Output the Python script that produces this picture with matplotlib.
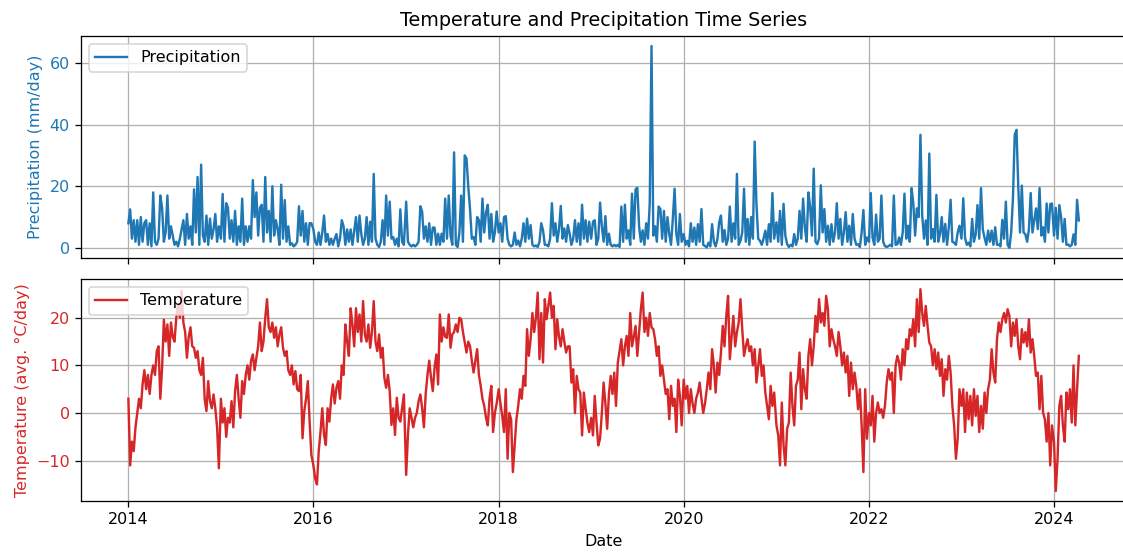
import numpy as np
import pandas as pd
import matplotlib
matplotlib.use('Agg')
import matplotlib.pyplot as plt

# valores semanais (mm/dia)
precip_2014 = [8, 12.5, 3, 9, 2, 9, 1, 10, 2, 8, 9, 1, 8, 0.5, 18, 2, 1, 3, 17, 13, 2, 5, 17, 3, 7, 4,
               1, 2, 0.5, 3, 6, 9, 1, 11, 3, 7, 1, 19, 5, 23, 1, 27, 4, 2, 10.5, 1, 9.5, 3, 6, 11, 2, 7]
precip_2015 = [3, 17.5, 2, 14.5, 13, 3, 9, 2, 12, 1, 7, 2, 16, 1, 7, 2, 7, 3, 22, 10, 18, 4, 13, 14, 2, 23,
               5, 12, 2, 20, 4, 9, 6, 1, 20.5, 3, 15.5, 2, 7, 1, 1.5, 0.5, 1, 2, 13.5, 4, 12, 2, 8, 1, 8, 8]
precip_2016 = [6, 2, 1, 5, 1, 5, 10.5, 2, 4.5, 1, 3, 1, 3, 4.5, 0.5, 3, 9, 7, 1, 6, 2, 6, 1, 5.5, 10, 2,
               10.5, 4.5, 1, 3, 10, 1, 8.5, 2, 24, 3, 1, 0.3, 2, 9, 1, 17, 4, 15, 3, 3.5, 1, 3, 0.5, 12.5, 2, 1]
precip_2017 = [15, 2, 1, 0.5, 1, 0.5, 1, 2, 13.5, 11.8, 3, 7, 2, 8, 1, 6.6, 6.6, 1, 4.6, 1, 4.6, 2, 16, 3, 17, 4,
               1, 31, 1, 0.3, 5, 17, 2, 30, 29, 20, 12.5, 3, 3.5, 1, 10, 9, 2, 16, 5, 11.4, 14, 3, 11, 2, 5, 11.8]
precip_2018 = [5, 8, 2, 10, 10.3, 3, 1, 0.5, 1, 5, 1, 2.4, 0.5, 3, 8, 2, 9.5, 3, 7.4, 1, 0.5, 0.8, 0.3, 2, 8, 5.7,
               1, 1, 0.5, 3, 14.5, 4, 8, 2, 6, 13.6, 3, 6.3, 2, 7.4, 4.6, 1, 3, 9, 2, 8, 1, 14, 3, 9, 2, 8.5]
precip_2019 = [3, 8.5, 9, 1, 3, 14.7, 7, 2, 10.3, 1, 4.6, 1, 0.5, 1, 0.5, 1, 0.3, 13.4, 2, 14, 3, 5.7, 1, 17.6, 3, 19,
               19.5, 7, 2, 5.7, 1, 8, 3, 14.5, 65.5, 4, 7, 2, 13.4, 12.6, 3, 12, 2, 10, 4.5, 1, 9.4, 19.2, 4.5, 1, 11, 2]
precip_2020 = [4.5, 1, 2.3, 0.5, 8, 2, 6.6, 1, 7.7, 2, 12.6, 1, 0.6, 0.2, 1.7, 0.5, 7.7, 2, 0.5, 2.8, 8.3, 10.5, 2, 5.8,
               1, 3, 13.4, 2, 8, 3, 24, 1, 2.3, 5, 19.2, 2, 9.4, 1, 10, 3, 34.5, 14.3, 3, 2.3, 1, 3, 5.6, 1, 7.7, 2, 17.8, 3]
precip_2021 = [8.3, 2, 12, 1, 14.3, 4, 1.2, 0.3, 1, 0.5, 4.5, 1, 3, 12, 3, 16, 6.6, 2, 18, 13.2, 4, 25.7, 2, 1.2, 3,
               20.3, 5, 12.6, 2, 7.2, 1, 7.7, 2, 5, 14.5, 3, 9.4, 1, 5, 11.6, 2, 7.2, 1, 11, 3, 1, 1.2, 0.3, 5, 12.3, 1, 3.4]
precip_2022 = [2, 17.8, 3.4, 1, 10.8, 2, 3, 17, 2, 0.6, 0.3, 0.6, 1, 0.5, 17, 1, 1.2, 3.4, 1, 5, 17.6, 3, 7.2, 2, 19.4,
               14.4, 4, 12.8, 10, 36.7, 10.6, 3, 8.9, 1, 30.6, 3, 6.1, 2, 17.2, 2, 4.4, 10, 2, 7.8, 1, 6.7, 15.6, 2, 1.7, 1, 5, 7.2]
precip_2023 = [3, 16.1, 3.3, 1, 1.7, 0.5, 9.4, 2, 4.4, 13.9, 3, 19.4, 6, 3.3, 1, 5.6, 2, 5.6, 1, 6.7, 1, 1.1, 0.5, 9.1,
               3, 15, 1, 0, 5, 16.1, 36.7, 38.3, 20, 5, 20.2, 5, 4.4, 2, 6, 17.8, 5, 8.9, 12.8, 6.1, 19.4, 4, 6.7, 2, 14.4, 5,
               14.2, 14.4]
precip_2024 = [4, 13, 3, 13.9, 10, 2, 9.4, 1, 1.1, 0.5, 1, 4.4, 1, 15.6, 8.9]

# temperatura media (graus C)
temp_2014 = [3, -11, -6, -8, -3, 0, 3, 1, 6, 9, 5, 8, 4, 8, 10, 8, 13, 14, 3, 9.5, 19.6, 15, 18.6, 12, 19, 16, 15, 20,
             23, 20, 25.6, 19, 17, 11.6, 16, 18, 14, 13.7, 11.6, 13, 9, 8, 11.6, 3, 0.4, 6.7, 2.5, 1, 3.9, 1, -3, -11.6]
temp_2015 = [3, -2, 1, -5, -1, -2, 2.5, -3, 4.6, 8, 3, -1, 6.7, 4, 8, 10, 7, 11, 12.3, 9, 11.6, 14, 19, 13, 15, 20,
             23.9, 18, 17, 19, 15.8, 18, 14, 16.5, 18, 13.7, 12, 13, 9, 8, 10, 6, 8.8, 5, 4.6, 8, -5.3, 0.4, 3, 6.7, -1.8, -8.8]
temp_2016 = [-11, -13.7, -15, -8, -4, 1, -4.6, -6.7, 1, -1.8, 3, 6, 2, 5.3, 6.7, 3, 10, 8, 18.6, 15, 12, 22, 18.6, 14,
             22, 17, 20.7, 15, 23.5, 16.5, 15, 18.6, 13.7, 17, 23.5, 15, 13, 16.5, 11.6, 13.7, 7.4, 5.3, 8, 4.6, -2.5, 1,
             -4.6, 3.2, -1, -1.8, 1, 3.9]
temp_2017 = [-13, -4.6, 1, -1, -3, -1, 0, 2.5, 3.9, 1, -3, 4, 8, 11, 7.4, 4.6, 9.5, 12.3, 6, 20.7, 15, 18, 16, 15.8,
             20.7, 13.7, 16.5, 17, 18.6, 17, 20, 19.7, 17, 14.8, 12.7, 15, 14, 11, 8.5, 11, 13.4, 8, 5.7, 3, 1.5, -1, -2.6,
             3, 5.7, -4, 0, 2]
temp_2018 = [5, 2, -0.6, -4, 5, -9.6, 0, -1.3, -12.4, -6.8, -1.3, 1.5, 5, 3, 7.8, 5.7, 17.6, 12, 15.5, 21, 17, 20, 25.3,
             11.3, 21, 10.6, 23.9, 19.7, 22.5, 25.3, 20, 22.5, 13.4, 19.7, 16, 14, 17.6, 15, 12.7, 14, 14, 6.4, 9.2, 0,
             7.8, 5, 4.3, -4.7, 4.3, 1, -2, -4]
temp_2019 = [-1, -4.7, 3.6, -2, -6.8, -5.4, 0, 6.4, 2, -3.3, 4, 7.8, 4, 8.5, 1.5, 10.6, 13, 15.5, 10, 14, 16.2, 12, 21,
             14, 16, 18.3, 12, 17, 21.8, 25.3, 17, 20, 16.2, 21, 18, 17.6, 15.5, 12, 14, 7.8, 10, 7, 4, 5, -1.3, 5.7, 1.5,
             3, -4, 7, 3.6, -2.6]
temp_2020 = [7, 3, 5.7, 0, 5, 2, 0, 3, 4.3, 6.4, 3, 0, 2, 5, 8.5, 5, 13.4, 10, 4.3, 10.6, 8, 12.7, 18.3, 14, 20.4, 24.6,
             11.3, 16, 20.4, 14, 17, 19, 23.9, 17.6, 12, 14, 15.5, 13, 14, 10, 13.4, 6.4, 10, 13.4, 7.8, 10, 4.3, 1.5,
             -1.3, 5.7, 1.5, 4.3]
temp_2021 = [-2.6, -4.7, -11, 2.2, -6.8, -11, -3.3, -2, 8.5, 1.5, -2.6, 5.7, 7, 12.7, 0.8, 9.2, 5, 3, 12, 15.5, 10, 14,
             20.4, 17, 23.9, 19, 21, 18.3, 24.6, 21.8, 14, 17.6, 15.5, 14, 12, 17, 14, 10, 12.7, 8.5, 12, 3.6, 10.6, 5,
             8.5, 5.7, 0.8, 5, -2.6, -12.4, 5, -5.4]
temp_2022 = [0, -2.6, 3.6, -6, 0, 2.2, 0, 0.8, -1, 1.5, 6.4, 9.2, 7, 8.5, 0, 10, 12, 10.6, 7, 13.4, 10, 15.5, 13.4, 17.6,
             16.2, 19.7, 14, 23.9, 17, 26, 21, 18.3, 22.5, 18.3, 14.8, 14, 10, 13.4, 9.2, 12.7, 7.8, 11.3, 3.6, 9.2, 7,
             12, 8.5, 1.5, -2.6, -9.6, -5.4, 5]
temp_2023 = [1.5, 5, -4, 4.3, -1.3, 3.6, -2.6, 5, -0.6, 3.6, -4, 1.5, -3.3, 4.3, 0, 5, 7, 13.4, 8.5, 6.4, 15.5, 19, 17,
             19.7, 21, 19, 21.8, 20.4, 14, 19, 16.2, 19.7, 14, 11.3, 17.6, 14.8, 17, 14, 19.7, 12.7, 15.5, 12, 7.8, 8.5,
             0.8, 7.8, 0, -1.3, -6, 0, -11, -2.6]
temp_2024 = [-6, -16.4, -9.6, 1.5, 3.6, -2.6, -6, 4.3, 0.8, 5, -2, 10, -2.6, 5, 12]

years = list(range(2014, 2025))
precip_by_year = [precip_2014, precip_2015, precip_2016, precip_2017, precip_2018, precip_2019,
                  precip_2020, precip_2021, precip_2022, precip_2023, precip_2024]
temp_by_year = [temp_2014, temp_2015, temp_2016, temp_2017, temp_2018, temp_2019,
                temp_2020, temp_2021, temp_2022, temp_2023, temp_2024]


# monta uma serie com datas semanais para cada ano
def buildSeries(values_by_year):
    parts = []
    for year, vals in zip(years, values_by_year):
        idx = pd.date_range(f'{year}-01-01', periods=len(vals), freq='7D')
        parts.append(pd.Series(vals, index=idx))
    return pd.concat(parts)


precip = buildSeries(precip_by_year)
temp = buildSeries(temp_by_year)

# dpi um pouco maior para as fontes ficarem do tamanho da referencia
dpi = 115
fig, (ax1, ax2) = plt.subplots(2, 1, figsize=(1123 / dpi, 552 / dpi), dpi=dpi, sharex=True)
fig.subplots_adjust(left=0.072, right=1.003, top=0.935, bottom=0.092, hspace=0.095)

ax1.plot(precip.index, precip.values, color='tab:blue', label='Precipitation')
ax1.set_ylabel('Precipitation (mm/day)', color='tab:blue')
ax1.tick_params(axis='y', labelcolor='tab:blue')
ax1.set_title('Temperature and Precipitation Time Series')
ax1.legend(loc='upper left')
ax1.grid(True)

ax2.plot(temp.index, temp.values, color='tab:red', label='Temperature')
ax2.set_ylabel('Temperature (avg. °C/day)', color='tab:red')
ax2.tick_params(axis='y', labelcolor='tab:red')
ax2.set_xlabel('Date')
ax2.legend(loc='upper left')
ax2.grid(True)

fig.savefig('out.png', dpi=dpi)
